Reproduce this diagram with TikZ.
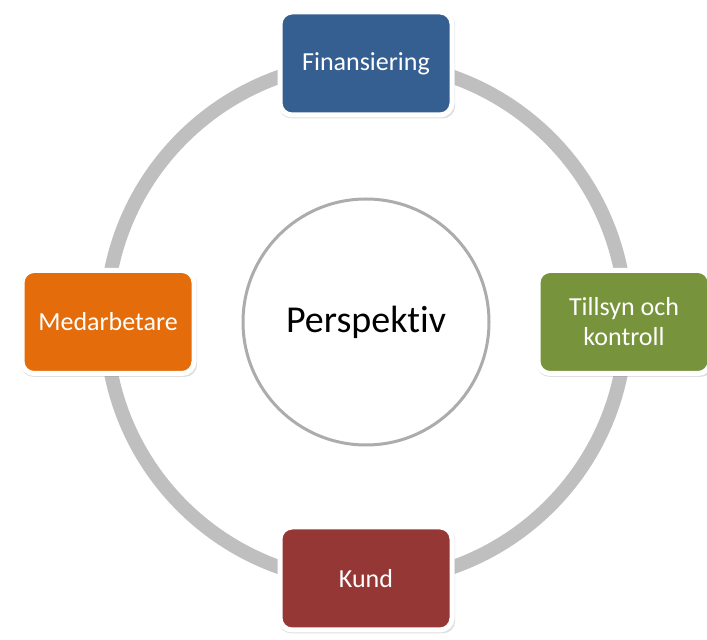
\documentclass[tikz,border=0pt]{standalone}
\usepackage{fontspec}
\setmainfont{Carlito}[Ligatures=NoCommon]
\usetikzlibrary{positioning,shadows}

\definecolor{finblue}{HTML}{365F91}
\definecolor{tilgreen}{HTML}{77933C}
\definecolor{medorange}{HTML}{E46C0A}
\definecolor{kundred}{HTML}{953735}

\begin{document}
\begin{tikzpicture}[
        x=1pt, y=1pt,
        node distance=49pt,
        hub/.style={circle, draw=gray!65, line width=3pt, fill=white, outer sep=0pt, minimum size=246pt, font=\fontsize{38}{44}\selectfont},
        part/.style={rectangle, rounded corners=12pt, draw=white, line width=5pt, outer sep=0pt, minimum width=172pt, minimum height=103pt, text=white, align=center, font=\fontsize{26}{30}\selectfont, drop shadow={opacity=0.25, shadow xshift=1pt, shadow yshift=-2pt, shadow scale=1.025}},
        ring/.style={draw=gray!50, line width=14pt}
    ]
        \useasboundingbox (0,0) rectangle (707,640);

        % Define hub and ring
        \node[hub] (hub) at (366,318) {Perspektiv};
        \draw[ring] (hub.center) circle (260);

        % Define perspectives
        \node[part, fill=finblue, above=84pt of hub] (fin) {Finansiering};
        \node[part, fill=tilgreen, right=of hub] (tillsyn) {Tillsyn och\\ kontroll};
        \node[part, fill=kundred, below=82pt of hub] (kund) {Kund};
        \node[part, fill=medorange, left=of hub] (medarb) {Medarbetare};

    \end{tikzpicture}
\end{document}
